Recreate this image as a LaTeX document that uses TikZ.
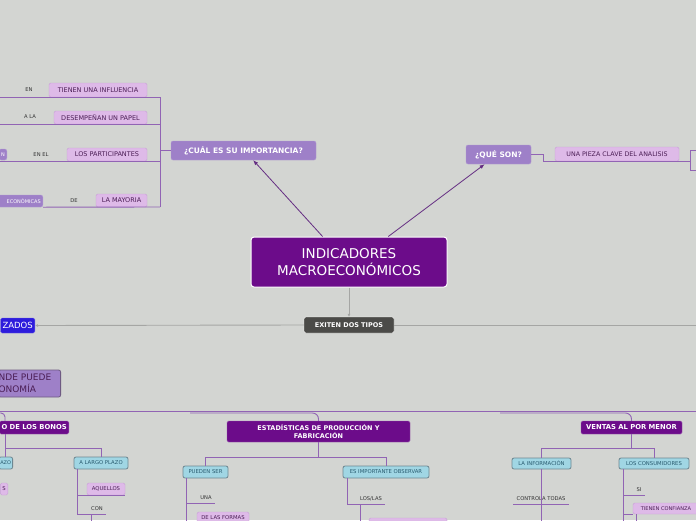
\documentclass[tikz,border=0pt]{standalone}
\usepackage{fontspec}
\setmainfont{DejaVu Sans}
\usepackage{tikz}
\usetikzlibrary{arrows.meta,positioning}
\definecolor{FondoMapa}{RGB}{211,213,210}
\definecolor{MoradoRaiz}{RGB}{108,12,138}
\definecolor{MoradoMedio}{RGB}{158,128,200}
\definecolor{MoradoBorde}{RGB}{110,90,130}
\definecolor{RosaNodo}{RGB}{222,186,232}
\definecolor{RosaBorde}{RGB}{200,160,215}
\definecolor{TextoRosa}{RGB}{75,30,85}
\definecolor{CelesteNodo}{RGB}{160,214,228}
\definecolor{CelesteBorde}{RGB}{110,135,145}
\definecolor{TextoCeleste}{RGB}{40,90,110}
\definecolor{GrisOscuro}{RGB}{75,75,72}
\definecolor{AzulNodo}{RGB}{45,28,220}
\definecolor{LineaRama}{RGB}{145,100,180}
\definecolor{FlechaMorada}{RGB}{100,45,130}
\definecolor{LineaGris}{RGB}{165,166,164}

\begin{document}
\begin{tikzpicture}[x=1pt,y=-1pt,>=Latex,
  raiz/.style={draw=white,line width=1pt,fill=MoradoRaiz,text=white,rounded corners=3pt,align=center,inner sep=0pt,font=\fontsize{13.5}{17}\selectfont},
  pregunta/.style={draw=MoradoMedio!80!white,fill=MoradoMedio,text=white,rounded corners=2pt,inner sep=0pt,font=\bfseries\fontsize{7.5}{9}\selectfont},
  titulo/.style={draw=MoradoRaiz!70!white,fill=MoradoRaiz,text=white,rounded corners=1.5pt,inner sep=0pt,align=center,font=\bfseries\fontsize{6.8}{9}\selectfont},
  rosa/.style={draw=RosaBorde,fill=RosaNodo,text=TextoRosa,rounded corners=1.5pt,inner sep=0pt,font=\fontsize{6.5}{8}\selectfont},
  celeste/.style={draw=CelesteBorde,line width=0.8pt,fill=CelesteNodo,text=TextoCeleste,rounded corners=2pt,inner sep=0pt,font=\fontsize{5.3}{6}\selectfont},
  etiqueta/.style={text=black!80,inner sep=3pt,font=\fontsize{5.2}{6}\selectfont},
  rama/.style={draw=LineaRama,line width=0.9pt},
  flecha/.style={draw=FlechaMorada,line width=0.8pt,-{Latex[length=5pt,width=4pt]}},
  gris/.style={draw=LineaGris,line width=0.9pt}]
  \useasboundingbox (0,0) rectangle (696,520);
  \clip (0,0) rectangle (696,520);
  \fill[FondoMapa] (0,0) rectangle (696,520);

  \coordinate (bordeIzq) at (0,0);
  \coordinate (bordeDer) at (696,0);
  \coordinate (llaveA) at (160,97);
  \coordinate (llaveB) at (160,207);
  \coordinate (llaveC) at (690,150);
  \coordinate (llaveD) at (690,170);
  \coordinate (franja) at (0,411);
  \coordinate (ramaE) at (190,413);
  \coordinate (ramaV) at (500,413);
  \coordinate (tallo) at (5,434);

  \node[raiz,minimum width=196pt,minimum height=50pt] (central) at (349,262) {INDICADORES\\MACROECONÓMICOS};
  \node[pregunta,minimum width=145pt,minimum height=19pt] (cual) at (243.5,150.5) {¿CUÁL ES SU IMPORTANCIA?};
  \node[pregunta,minimum width=65pt,minimum height=19pt] (queson) at (498.5,154.5) {¿QUÉ SON?};
  \node[rosa,font=\fontsize{6.3}{8}\selectfont,minimum width=124pt,minimum height=14pt] (pieza) at (617,154) {UNA PIEZA CLAVE DEL ANALISIS};

  \node[rosa,minimum width=98pt,minimum height=14pt] (influencia) at (98,90) {TIENEN UNA INFLUENCIA};
  \node[rosa,minimum width=93pt,minimum height=13pt] (papel) at (100.5,117.5) {DESEMPEÑAN UN PAPEL};
  \node[rosa,minimum width=80pt,minimum height=13pt] (participantes) at (107,154.5) {LOS PARTICIPANTES};
  \node[rosa,minimum width=51pt,minimum height=13pt] (mayoria) at (121.5,200.5) {LA MAYORIA};
  \node[pregunta,font=\fontsize{5}{6}\selectfont,anchor=east,inner xsep=2pt,minimum height=11pt] (nodoN) at (7,154.5) {N};
  \node[pregunta,font=\fontsize{5}{6}\selectfont,anchor=east,text width=44pt,align=right,inner xsep=2pt,minimum height=12pt] (economicas) at (43,201) {ECONÓMICAS};
  \node[etiqueta] (en) at (29,90) {EN};
  \node[etiqueta] (ala) at (30,117) {A LA};
  \node[etiqueta] (enel) at (41,155) {EN EL};
  \node[etiqueta] (de) at (74,201) {DE};

  \node[draw=white,fill=GrisOscuro,text=white,rounded corners=2pt,inner sep=0pt,font=\bfseries\fontsize{6.5}{8}\selectfont,minimum width=90pt,minimum height=16pt] (exiten) at (349,325) {EXITEN DOS TIPOS};
  \node[fill=AzulNodo,draw=AzulNodo!70!white,text=white,anchor=east,rounded corners=1.5pt,inner xsep=2pt,inner ysep=0pt,minimum height=15pt,font=\fontsize{8.5}{10}\selectfont] (zados) at (35,325.5) {ZADOS};
  \node[pregunta,draw=MoradoBorde,line width=0.8pt,text=TextoRosa,anchor=east,font=\fontsize{9}{12}\selectfont,align=left,text width=62pt,minimum height=27pt] (economia) at (61,383.5) {NDE PUEDE\\ONOMÍA};

  \node[titulo,anchor=east,inner xsep=2pt,minimum height=13pt] (bonos) at (69,427.5) {O DE LOS BONOS};
  \node[celeste,anchor=east,inner xsep=1.5pt,minimum height=12pt,font=\fontsize{5}{6}\selectfont] (azo) at (13,463) {AZO};
  \node[celeste,minimum width=54pt,minimum height=12pt] (largo) at (101,463) {A LARGO PLAZO};
  \node[rosa,font=\fontsize{5.3}{6}\selectfont,anchor=east,inner xsep=2pt,minimum height=12pt] (nodoS) at (8,489) {S};
  \node[rosa,font=\fontsize{5.3}{6}\selectfont,minimum width=38pt,minimum height=12pt] (aquellos) at (106,489) {AQUELLOS};
  \node[etiqueta] (con) at (97,509) {CON};

  \node[titulo,font=\bfseries\fontsize{6.5}{8}\selectfont,minimum width=183pt,minimum height=21pt] (estad) at (318.5,431.5) {ESTADÍSTICAS DE PRODUCCIÓN Y\\FABRICACIÓN};
  \node[celeste,minimum width=45pt,minimum height=12pt] (pueden) at (205.5,472) {PUEDEN SER};
  \node[celeste,minimum width=86pt,minimum height=12pt] (importante) at (386,472) {ES IMPORTANTE OBSERVAR};
  \node[etiqueta] (una) at (206,498) {UNA};
  \node[rosa,font=\fontsize{5.3}{6}\selectfont,minimum width=52pt,minimum height=12pt] (formas) at (223,518) {DE LAS FORMAS};
  \node[etiqueta] (loslas) at (371,499) {LOS/LAS};
  \node[rosa,minimum width=78pt,minimum height=12pt] (inferior) at (408,524) {};

  \node[titulo,minimum width=101pt,minimum height=13pt] (ventas) at (631.5,427.5) {VENTAS AL POR MENOR};
  \node[celeste,minimum width=59pt,minimum height=11pt] (informacion) at (541.5,463.5) {LA INFORMACIÓN};
  \node[celeste,minimum width=70pt,minimum height=11pt] (consumidores) at (654,463.5) {LOS CONSUMIDORES};
  \node[etiqueta] (controla) at (541,499) {CONTROLA TODAS};
  \node[etiqueta] (si) at (639,490) {SI};
  \node[rosa,font=\fontsize{5.1}{6}\selectfont,minimum width=66pt,minimum height=11pt] (confianza) at (666,508.5) {TIENEN CONFIANZA};

  \draw[flecha] (central.136) -- (cual.-45);
  \draw[flecha] (central.33) -- (queson.215);
  \draw[gris,-{Latex[length=3pt,width=3pt]}] (central.south) -- (exiten.north);
  \draw[gris,-{Latex[length=3pt,width=3pt]}] (exiten.west) -- (zados.east);
  \draw[gris] (exiten.east) -- (exiten.east -| bordeDer);

  \draw[rama] (cual.west) -- (cual.west -| llaveA);
  \draw[rama] (llaveA) -- (llaveB);
  \draw[rama] (llaveA) -- (llaveA -| bordeIzq);
  \draw[rama] (papel.south -| llaveA) -- (papel.south -| bordeIzq);
  \draw[rama] (participantes.south -| llaveA) -- (participantes.south -| bordeIzq);
  \draw[rama] (llaveB) -- (economicas.south east);

  \draw[rama] (queson.east) -- ++(12,0) |- (pieza.south west) -- (llaveC |- pieza.south);
  \draw[rama] (llaveC) -- (llaveD);
  \draw[rama] (llaveC) -- (llaveC -| bordeDer);
  \draw[rama] (llaveD) -- (llaveD -| bordeDer);

  \draw[rama] (franja) -- (franja -| bordeDer);
  \draw[rama,rounded corners=6pt] (ramaE) -| (estad.north);
  \draw[rama,rounded corners=6pt] (ramaV) -| (ventas.north);
  \draw[rama,rounded corners=4pt] (bordeIzq |- ramaE) -| (tallo |- bonos.north);
  \draw[rama] (tallo) -- ++(0,14) -| (largo.north);
  \draw[rama] (tallo) -- (tallo |- azo.north);
  \draw[rama] ([xshift=4pt]largo.south west) |- (aquellos.south east);
  \draw[rama] ([xshift=4pt]largo.south west) |- (con.south east);
  \draw[rama] ([xshift=-6pt]con.south) -- ++(0,10);

  \draw[rama] (estad.south) -- ++(0,15) -| (pueden.north);
  \draw[rama] (estad.south) -- ++(0,15) -| (importante.north);
  \draw[rama] ([xshift=4pt]pueden.south west) |- (una.south east);
  \draw[rama] ([xshift=4pt]pueden.south west) -- ++(0,50);
  \draw[rama] ([xshift=5pt]importante.south west) |- (loslas.south east);
  \draw[rama] ([xshift=4pt]loslas.south west) -- ++(0,20);

  \draw[rama] (ventas.south) -- ++(0,14) -| (informacion.north);
  \draw[rama] (ventas.south) -- ++(0,14) -| (consumidores.north);
  \draw[rama] (informacion.south) -- ++(0,60);
  \draw[rama] (controla.south west) -- (controla.south east);
  \draw[rama] ([xshift=5pt]consumidores.south west) |- (si.south east);
  \draw[rama] ([xshift=5pt]consumidores.south west) |- (confianza.south west);
  \draw[rama] ([xshift=5pt]consumidores.south west) -- ++(0,60);
  \draw[rama] ([xshift=4pt]confianza.south west) -- ++(0,10);
\end{tikzpicture}
\end{document}
